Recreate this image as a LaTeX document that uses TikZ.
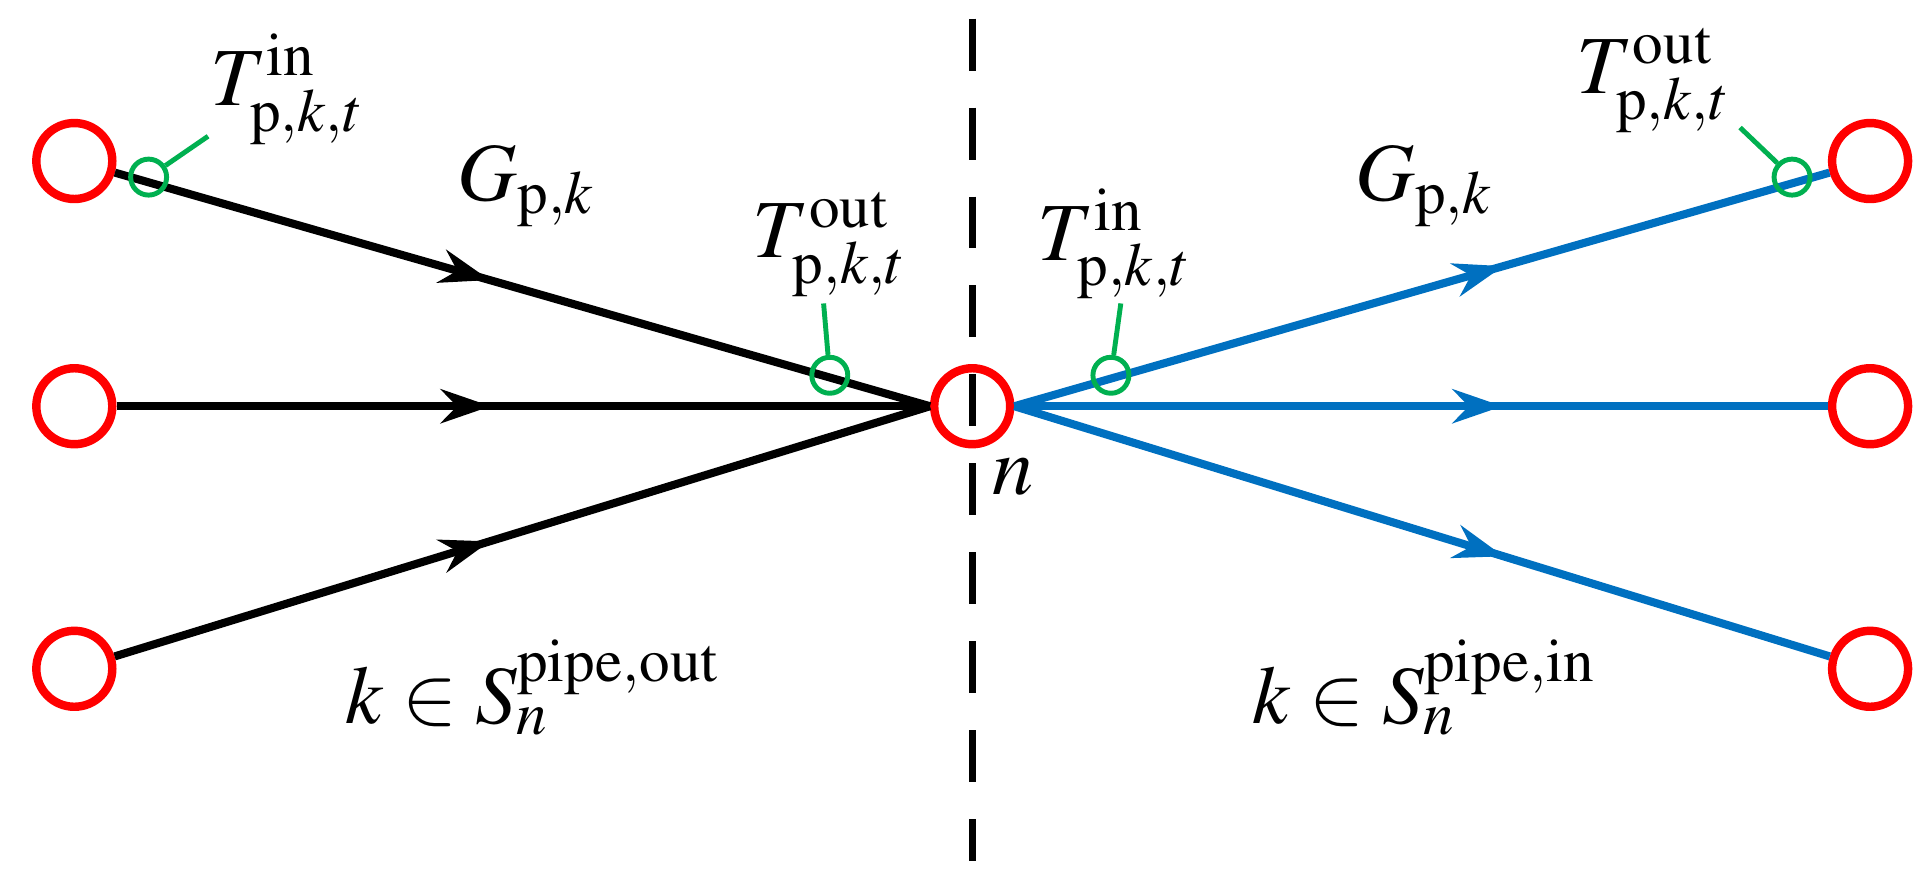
\documentclass[tikz,border=0pt]{standalone}
\usepackage{mathptmx}
\usetikzlibrary{decorations.markings,arrows.meta}
\definecolor{nred}{RGB}{255,0,0}
\definecolor{ngreen}{RGB}{0,176,80}
\definecolor{nblue}{RGB}{0,112,192}
\begin{document}
\begin{tikzpicture}[x=0.012385cm,y=-0.012385cm,
  node/.style={circle,draw=nred,line width=2.4pt,minimum size=0.76cm,inner sep=0pt},
  gnode/.style={circle,draw=ngreen,line width=1.4pt,minimum size=0.36cm,inner sep=0pt},
  pipe/.style={line width=2.3pt,postaction={decorate},decoration={markings,mark=at position #1 with {\arrow{Stealth[length=0.5cm,width=0.34cm]}}}},
  lead/.style={draw=ngreen,line width=1.4pt},
  lbl/.style={font=\fontsize{23.5}{27}\selectfont,inner sep=0pt}]
\useasboundingbox (0,0) rectangle (1560,702);
\node[node] (L1) at (60,130) {};
\node[node] (L2) at (60,328) {};
\node[node] (L3) at (60,540) {};
\node[node] (C) at (785,328) {};
\node[node] (R1) at (1510,130) {};
\node[node] (R2) at (1510,328) {};
\node[node] (R3) at (1510,540) {};
\draw[pipe=0.46] (L1) -- (C.west);
\draw[pipe=0.46] (L2) -- (C.west);
\draw[pipe=0.46] (L3) -- (C.west);
\draw[pipe=0.6,nblue] (C.east) -- (R1);
\draw[pipe=0.6,nblue] (C.east) -- (R2);
\draw[pipe=0.6,nblue] (C.east) -- (R3);
\draw[line width=1.9pt,dash pattern=on 0.52cm off 0.37cm] (785,15) coordinate (dtop) -- (785,695) coordinate (dbot);
\node[gnode] (g1) at (120,143) {};
\node[gnode] (g2) at (670,303) {};
\node[gnode] (g3) at (897,303) {};
\node[gnode] (g4) at (1447,143) {};
\coordinate (e1) at (168,110);
\coordinate (e2) at (665,245);
\coordinate (e3) at (905,245);
\coordinate (e4) at (1405,103);
\draw[lead] (g1) -- (e1);
\draw[lead] (g2) -- (e2);
\draw[lead] (g3) -- (e3);
\draw[lead] (g4) -- (e4);
\node[lbl] (t1) at (232,72) {$T^{\mathrm{in}}_{\mathrm{p},k,t}$};
\node[lbl] (t2) at (670,197) {$T^{\mathrm{out}}_{\mathrm{p},k,t}$};
\node[lbl] (t3) at (900,197) {$T^{\mathrm{in}}_{\mathrm{p},k,t}$};
\node[lbl] (t4) at (1335,65) {$T^{\mathrm{out}}_{\mathrm{p},k,t}$};
\node[lbl] (G1) at (425,150) {$G_{\mathrm{p},k}$};
\node[lbl] (G2) at (1150,150) {$G_{\mathrm{p},k}$};
\node[lbl] (nn) at (818,385) {$n$};
\node[lbl] (S1) at (430,555) {$k\in S_n^{\mathrm{pipe,out}}$};
\node[lbl] (S2) at (1150,555) {$k\in S_n^{\mathrm{pipe,in}}$};
\end{tikzpicture}
\end{document}
